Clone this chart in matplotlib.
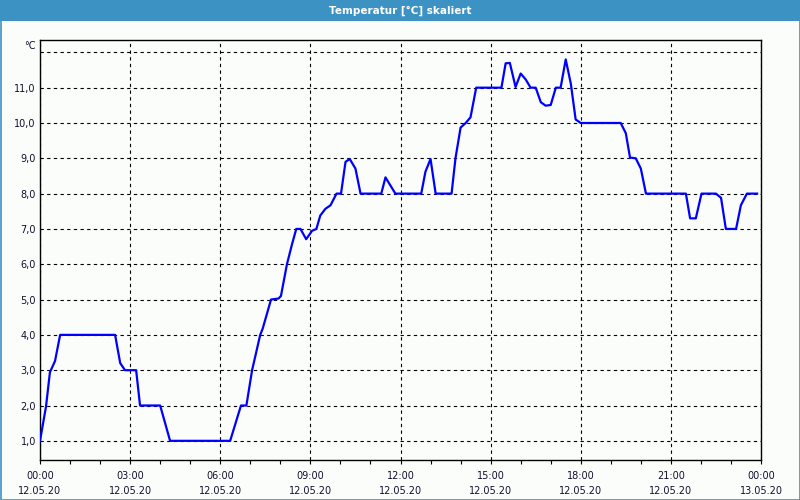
import matplotlib
matplotlib.use("Agg")
import matplotlib.pyplot as plt
from matplotlib.patches import Rectangle

# --- data (hours since 12.05.20 00:00, temperature in °C) ---
hours = [0.0, 0.2, 0.33, 0.5, 0.67, 2.5, 2.67, 2.83, 3.2, 3.33, 4.0, 4.33, 6.33,
         6.69, 6.87, 7.06, 7.33, 7.41, 7.69, 7.94, 8.02, 8.22, 8.39, 8.53, 8.67,
         8.86, 9.06, 9.2, 9.33, 9.5, 9.67, 9.87, 10.02, 10.17, 10.31, 10.5, 10.67,
         11.36, 11.5, 11.83, 12.69, 12.83, 13.0, 13.17, 13.7, 13.83, 14.0, 14.17,
         14.33, 14.52, 15.36, 15.5, 15.64, 15.83, 16.0, 16.17, 16.33, 16.5, 16.67,
         16.83, 17.0, 17.17, 17.33, 17.5, 17.67, 17.83, 18.0, 19.33, 19.5, 19.64,
         19.83, 20.0, 20.17, 21.5, 21.64, 21.83, 22.02, 22.5, 22.67, 22.83, 23.17,
         23.33, 23.53, 23.87]
temps = [1.0, 1.97, 2.94, 3.26, 4.0, 4.0, 3.2, 3.0, 3.0, 2.0, 2.0, 1.0, 1.0,
         2.0, 2.0, 3.0, 4.0, 4.17, 5.0, 5.03, 5.1, 6.0, 6.57, 7.0, 7.0,
         6.71, 6.95, 7.0, 7.38, 7.57, 7.67, 8.0, 8.0, 8.9, 8.98, 8.71, 8.0,
         8.0, 8.46, 8.0, 8.0, 8.62, 8.98, 8.0, 8.0, 9.0, 9.87, 10.0,
         10.16, 11.0, 11.0, 11.69, 11.7, 11.02, 11.4, 11.23, 11.0, 11.0, 10.59,
         10.49, 10.51, 11.0, 11.0, 11.8, 11.11, 10.1, 10.0, 10.0, 9.71, 9.02,
         9.0, 8.71, 8.0, 8.0, 7.3, 7.3, 8.0, 8.0, 7.88, 7.0, 7.0,
         7.67, 8.0, 8.0]

x_ticks = [0, 3, 6, 9, 12, 15, 18, 21, 24]
x_labels = ["00:00\n12.05.20", "03:00\n12.05.20", "06:00\n12.05.20",
            "09:00\n12.05.20", "12:00\n12.05.20", "15:00\n12.05.20",
            "18:00\n12.05.20", "21:00\n12.05.20", "00:00\n13.05.20"]
y_ticks = [1, 2, 3, 4, 5, 6, 7, 8, 9, 10, 11, 12]
y_labels = ["1,0", "2,0", "3,0", "4,0", "5,0", "6,0", "7,0", "8,0",
            "9,0", "10,0", "11,0", ""]

BG = "#fbfdfb"
BAR = "#3d92c4"
TXT = "#101030"

fig = plt.figure(figsize=(8, 5), dpi=100, facecolor=BG)

# title bar + thin frame round the window
fig.patches.append(Rectangle((0, 1 - 21 / 500), 1, 21 / 500, transform=fig.transFigure,
                             facecolor=BAR, edgecolor="none", zorder=0))
fig.patches.append(Rectangle((0.5 / 800, 0.5 / 500), 799 / 800, 499 / 500, transform=fig.transFigure,
                             facecolor="none", edgecolor=BAR, linewidth=1.2, zorder=5))
fig.text(0.5, 1 - 10.5 / 500, "Temperatur [°C] skaliert", ha="center", va="center",
         color="white", fontsize=7.5, fontweight="bold")

ax = fig.add_axes([40 / 800, 40 / 500, 721 / 800, 420 / 500])
ax.set_facecolor(BG)
ax.plot(hours, temps, color="#0000ff", linewidth=1.6, zorder=3)

ax.set_xlim(0, 24)
ax.set_ylim(0.457, 12.35)
ax.set_xticks(x_ticks)
ax.set_xticklabels(x_labels, fontsize=7, color=TXT, linespacing=1.55)
ax.set_xticks(range(0, 25), minor=True)
ax.set_yticks(y_ticks)
ax.set_yticklabels(y_labels, fontsize=7, color=TXT)
ax.tick_params(axis="x", which="both", length=3, width=0.8, direction="out", pad=5)
ax.tick_params(axis="y", length=0, pad=3)

ax.grid(True, which="major", color="black", linestyle=(0, (3, 3)), linewidth=0.8)
for s in ax.spines.values():
    s.set_color("black")
    s.set_linewidth(1.0)

fig.text(30 / 800, 1 - 46 / 500, "°C", ha="center", va="center", fontsize=7, color=TXT)

fig.savefig("out.png", dpi=100, facecolor=BG)
